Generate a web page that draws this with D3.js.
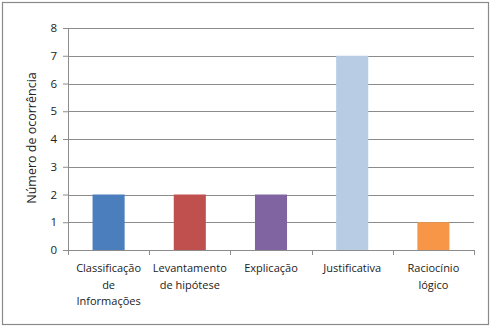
<!DOCTYPE html>
<html>
<head>
<meta charset="utf-8">
<script src="https://cdn.jsdelivr.net/npm/d3@7"></script>
<style>
  body { margin: 0; background: #fff; }
  text { font-family: "Open Sans", "Noto Sans", sans-serif; fill: #222; }
</style>
</head>
<body>
<div id="chart"></div>
<script>
// chart data
let categories = ["Classificação de Informações", "Levantamento de hipótese", "Explicação", "Justificativa", "Raciocínio lógico"];
let labelLines = [["Classificação", "de", "Informações"], ["Levantamento", "de hipótese"], ["Explicação"], ["Justificativa"], ["Raciocínio", "lógico"]];
let values = [2, 2, 2, 7, 1];
let barColors = ["#4a7ebd", "#c0504d", "#8064a2", "#b8cce4", "#f79646"];
let yTicks = [0, 1, 2, 3, 4, 5, 6, 7, 8];
let yTitle = "Número de ocorrência";

let width = 493, height = 328;
let margin = {top: 28, right: 19, bottom: 78, left: 68};
let innerW = width - margin.left - margin.right;
let innerH = height - margin.top - margin.bottom;

let svg = d3.select("#chart").append("svg")
    .attr("width", width)
    .attr("height", height);

// outer frame
svg.append("rect")
    .attr("x", 2.5).attr("y", 2.5)
    .attr("width", 486).attr("height", 322)
    .attr("fill", "#fff")
    .attr("stroke", "#8a8a8a")
    .attr("stroke-width", 1.2);

let g = svg.append("g")
    .attr("transform", `translate(${margin.left}, ${margin.top})`);

let x = d3.scaleBand()
    .domain(categories)
    .range([0, innerW])
    .padding(0);

let y = d3.scaleLinear()
    .domain([0, 8])
    .range([innerH, 0]);

// gridlines
g.append("g")
    .selectAll("line")
    .data(yTicks.filter(d => d > 0))
    .enter()
    .append("line")
    .attr("x1", 0).attr("x2", innerW)
    .attr("y1", d => Math.round(y(d)) + 0.5)
    .attr("y2", d => Math.round(y(d)) + 0.5)
    .attr("stroke", "#8c8c8c")
    .attr("stroke-width", 1);

// bars
let barW = x.bandwidth() * 0.395;
g.selectAll(".bar")
    .data(values)
    .enter()
    .append("rect")
    .attr("class", "bar")
    .attr("x", (d, i) => x(categories[i]) + x.bandwidth() / 2 - barW / 2)
    .attr("y", d => y(d))
    .attr("width", barW)
    .attr("height", d => innerH - y(d))
    .attr("fill", (d, i) => barColors[i]);

// y axis
let yAxis = g.append("g")
    .attr("class", "y-axis")
    .call(d3.axisLeft(y).tickValues(yTicks).tickSize(5).tickPadding(6).tickFormat(d3.format("d")));
yAxis.select(".domain").attr("stroke", "#8c8c8c");
yAxis.selectAll(".tick line").attr("stroke", "#8c8c8c");
yAxis.selectAll(".tick text").style("font-size", "11.5px").attr("fill", "#222");

// x axis
let xAxis = g.append("g")
    .attr("class", "x-axis")
    .attr("transform", `translate(0, ${innerH})`)
    .call(d3.axisBottom(x).tickSize(0).tickFormat(""));
xAxis.select(".domain").attr("stroke", "#8c8c8c");

// category separator ticks
xAxis.selectAll(".sep")
    .data(d3.range(categories.length + 1))
    .enter()
    .append("line")
    .attr("class", "sep")
    .attr("x1", i => Math.round(i * x.step()) + 0.5)
    .attr("x2", i => Math.round(i * x.step()) + 0.5)
    .attr("y1", 0).attr("y2", 5)
    .attr("stroke", "#8c8c8c");

// category labels
categories.forEach((c, i) => {
    let t = xAxis.append("text")
        .attr("x", x(c) + x.bandwidth() / 2)
        .attr("y", 22)
        .attr("text-anchor", "middle")
        .style("font-size", "11px")
        .attr("fill", "#222");
    labelLines[i].forEach((line, j) => {
        t.append("tspan")
            .attr("x", x(c) + x.bandwidth() / 2)
            .attr("dy", j === 0 ? 0 : 16.5)
            .text(line);
    });
});

// y title
svg.append("text")
    .attr("transform", `translate(36, ${margin.top + 110}) rotate(-90)`)
    .attr("text-anchor", "middle")
    .style("font-size", "12.5px")
    .text(yTitle);
</script>
</body>
</html>
